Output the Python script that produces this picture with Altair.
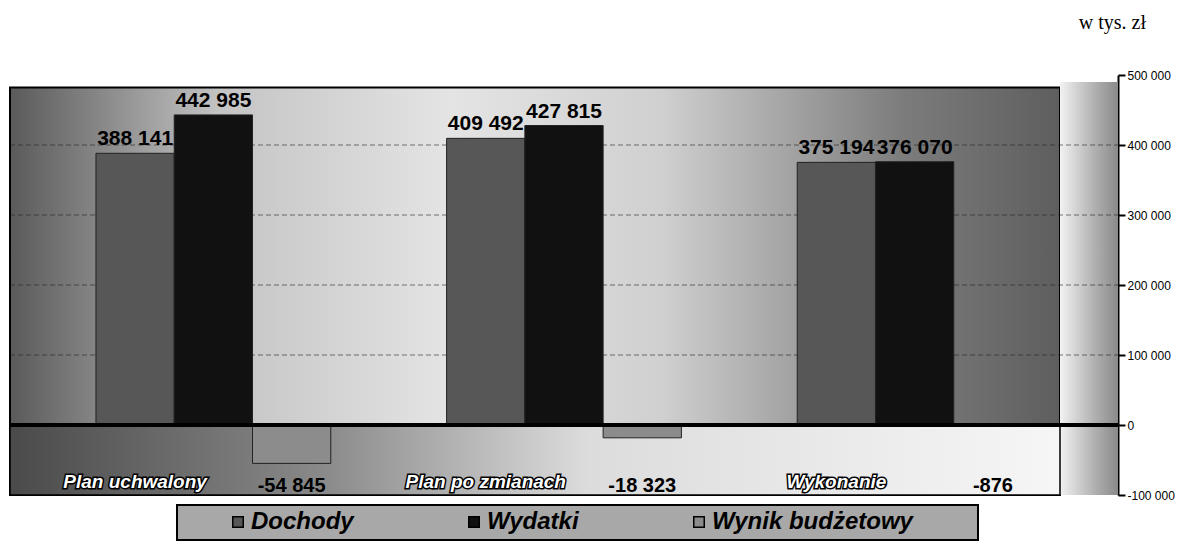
import altair as alt
import pandas as pd

categories = ["Plan uchwalony", "Plan po zmianach", "Wykonanie"]
series = ["Dochody", "Wydatki", "Wynik budżetowy"]
dochody = [388141, 409492, 375194]
wydatki = [442985, 427815, 376070]
wynik = [-54845, -18323, -876]
y_ticks = [-100000, 0, 100000, 200000, 300000, 400000, 500000]
grid_values = [100000, 200000, 300000, 400000]
unit_label = "w tys. zł"

rows = []
for i, c in enumerate(categories):
    rows.append({"category": c, "series": series[0], "value": dochody[i]})
    rows.append({"category": c, "series": series[1], "value": wydatki[i]})
    rows.append({"category": c, "series": series[2], "value": wynik[i]})
df = pd.DataFrame(rows)
bg = pd.DataFrame({"k": [0]})
grid_df = pd.DataFrame({"g": grid_values})

FONT = "Liberation Sans"
W, H = 1108, 420
BACK = 1050  # right edge of the back wall, in plot pixels

x_enc = alt.X("category:N", sort=categories, axis=None,
              scale=alt.Scale(paddingInner=0, paddingOuter=0.08))
xoff_enc = alt.XOffset("series:N", sort=series,
                       scale=alt.Scale(paddingInner=0, paddingOuter=0.74))
y_scale = alt.Scale(domain=[-100000, 500000], nice=False, zero=False)

fmt = "replace(replace(format(datum.value, ','), ',', ' '), '\u2212', '-')"

wall = alt.Chart(bg).mark_rect(
    color=alt.Gradient(
        gradient="linear", x1=0, x2=1, y1=0, y2=0,
        stops=[
            alt.GradientStop(color="#5a5a5a", offset=0),
            alt.GradientStop(color="#c4c4c4", offset=0.2),
            alt.GradientStop(color="#e4e4e4", offset=0.42),
            alt.GradientStop(color="#d0d0d0", offset=0.62),
            alt.GradientStop(color="#7c7c7c", offset=0.85),
            alt.GradientStop(color="#5e5e5e", offset=1),
        ],
    ),
    stroke="black", strokeWidth=2,
).encode(x=alt.value(0), x2=alt.value(BACK),
         y=alt.datum(482000, type="quantitative", scale=y_scale),
         y2=alt.datum(-100000))

side = alt.Chart(bg).mark_rect(
    color=alt.Gradient(
        gradient="linear", x1=0, x2=1, y1=0, y2=0,
        stops=[
            alt.GradientStop(color="#f2f2f2", offset=0),
            alt.GradientStop(color="#b0b0b0", offset=0.6),
            alt.GradientStop(color="#8a8a8a", offset=1),
        ],
    ),
).encode(x=alt.value(BACK), x2=alt.value("width"),
         y=alt.datum(490000), y2=alt.datum(-100000))

grid = alt.Chart(grid_df).mark_rule(color="#222", strokeDash=[5, 3],
                                    strokeWidth=1, opacity=0.6).encode(
    x=alt.value(0), x2=alt.value("width"), y=alt.Y("g:Q", scale=y_scale))

floor = alt.Chart(bg).mark_rect(
    color=alt.Gradient(
        gradient="linear", x1=0, x2=1, y1=0, y2=0,
        stops=[
            alt.GradientStop(color="#4a4a4a", offset=0),
            alt.GradientStop(color="#8a8a8a", offset=0.3),
            alt.GradientStop(color="#dcdcdc", offset=0.55),
            alt.GradientStop(color="#f6f6f6", offset=1),
        ],
    ),
    stroke="black", strokeWidth=1.5,
).encode(x=alt.value(0), x2=alt.value(BACK),
         y=alt.datum(0), y2=alt.datum(-100000))

bars = alt.Chart(df).mark_bar(stroke="#222", strokeWidth=1).encode(
    x=x_enc,
    xOffset=xoff_enc,
    y=alt.Y("value:Q", scale=y_scale,
            axis=alt.Axis(orient="right", values=y_ticks, title=None,
                          labelExpr=fmt, labelFont=FONT, labelFontSize=12,
                          labelColor="black", labelPadding=2,
                          domain=True, domainColor="black", domainWidth=2,
                          ticks=True, tickColor="black", tickWidth=2, tickSize=7,
                          grid=False)),
    color=alt.Color("series:N", sort=series,
                    scale=alt.Scale(domain=series, range=["#575757", "#111111", "#8c8c8c"]),
                    legend=alt.Legend(
                        title=None, orient="none", direction="horizontal",
                        legendX=216, legendY=435,
                        padding=0, columnPadding=108,
                        symbolType="square", symbolSize=110,
                        symbolStrokeColor="black", symbolStrokeWidth=1.5,
                        labelFont=FONT, labelFontSize=24, labelFontWeight="bold",
                        labelFontStyle="italic", labelColor="black", labelLimit=400,
                        labelOffset=1)),
)

legend_box = alt.Chart(bg).mark_rect(fill="#a8a8a8", stroke="black", strokeWidth=2).encode(
    x=alt.value(167), x2=alt.value(968), y=alt.value(430), y2=alt.value(465))

zero = alt.Chart(bg).mark_rule(color="black", strokeWidth=4).encode(
    x=alt.value(0), x2=alt.value("width"), y=alt.datum(0))

pos_base = alt.Chart(df).transform_filter("datum.value > 0").transform_calculate(
    label=fmt).encode(x=x_enc, xOffset=xoff_enc, y=alt.Y("value:Q"), text="label:N")
pos_text = pos_base.mark_text(font=FONT, fontSize=21, fontWeight="bold",
                              baseline="bottom", dy=-4, color="black")

neg_base = alt.Chart(df).transform_filter("datum.value < 0").transform_calculate(
    label=fmt).encode(x=x_enc, xOffset=xoff_enc, y=alt.datum(-87000), text="label:N")
neg_text = neg_base.mark_text(font=FONT, fontSize=20, fontWeight="bold",
                              baseline="middle", color="black")

cat_base = alt.Chart(df).transform_filter("datum.series == 'Dochody'").encode(
    x=x_enc, xOffset=xoff_enc, y=alt.datum(-81000), text="category:N")
cat_shadow = cat_base.mark_text(font=FONT, fontSize=19, fontWeight="bold",
                                fontStyle="italic", baseline="middle",
                                color="black", stroke="black", strokeWidth=3)
cat_text = cat_base.mark_text(font=FONT, fontSize=19, fontWeight="bold",
                              fontStyle="italic", baseline="middle", color="white")

chart = alt.layer(
    wall, side, floor, grid, bars, zero, pos_text, neg_text,
    cat_shadow, cat_text, legend_box
).properties(
    width=W, height=H,
    title=alt.TitleParams(unit_label, anchor="end", orient="top", frame="group",
                          font="Liberation Serif", fontSize=20, fontWeight="normal",
                          color="black", offset=36, dx=28),
    autosize=alt.AutoSizeParams(type="none"),
    padding={"left": 2, "top": 67, "right": 65, "bottom": 52},
    background="white",
).configure_view(stroke=None)

chart.save("out.html", embed_options={"renderer": "svg", "actions": False})
